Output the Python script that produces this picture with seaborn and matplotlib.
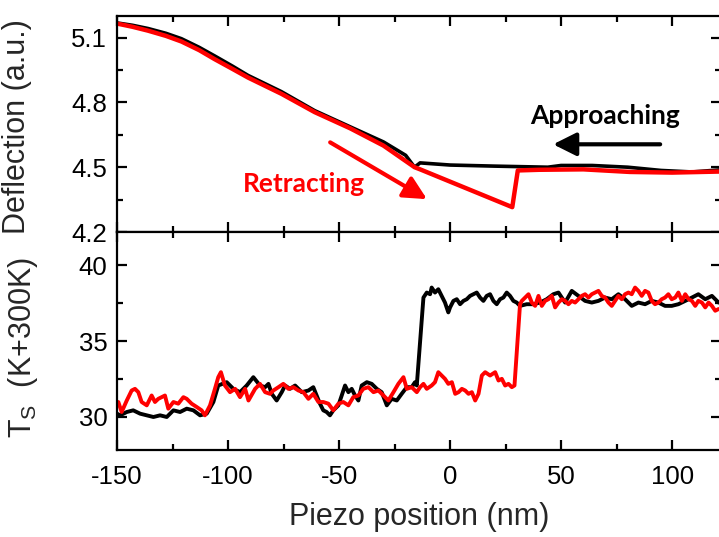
import matplotlib
matplotlib.use("Agg")
import matplotlib.pyplot as plt
import seaborn as sns
import pandas as pd
from matplotlib.ticker import MultipleLocator

# ---------------- data ----------------
# Top panel: deflection vs piezo position
appr_x = [-150, -143, -136, -128, -121, -113, -106, -98, -91, -76, -61, -45, -30, -20, -16,
          -13.5, 0, 20, 44, 50, 64, 80, 95, 109, 122]
appr_defl = [5.168, 5.157, 5.142, 5.12, 5.095, 5.055, 5.015, 4.968, 4.925, 4.85, 4.762,
             4.687, 4.617, 4.555, 4.50,
             4.52, 4.51, 4.505, 4.50, 4.508, 4.508, 4.50, 4.485, 4.478, 4.488]

retr_x = [-150, -143, -136, -128, -121, -113, -106, -98, -91, -76, -61, -45, -30, -16, -13.5,
          28, 30.5, 40, 60, 81, 100, 122]
retr_defl = [5.165, 5.15, 5.132, 5.108, 5.082, 5.042, 5.0, 4.955, 4.915, 4.84, 4.755,
             4.68, 4.60, 4.50, 4.49,
             4.315, 4.485, 4.488, 4.49, 4.478, 4.475, 4.48]

# Bottom panel: sample temperature (K + 300 K)
appr_tx = [-150, -148.6, -145.6, -142.7, -139.6, -136.6, -133.6, -130.6, -127.6, -124.6,
           -121.6, -118.6, -115.6, -112.6, -109.6, -106.6, -104.4, -100.6, -97.6, -94.6,
           -91.6, -88.6, -85.6,
           -83.3, -81.8, -80.3, -78.1, -75.8, -74.3, -72.1, -69.8, -66.8, -63.8,
           -61.6, -60.1, -58.6, -57.1, -55.6, -54.1, -52.6, -50.3, -48.8, -47.3,
           -45.8, -44.3, -42.8, -41.3, -39.8, -37.5, -35.3, -33.0, -30.8, -28.5,
           -26.3, -24.0, -21.8, -19.5, -17.3, -15.8, -15.0,
           -12.0, -10.5, -9.0, -8.3, -6.8, -5.3, -3.8, -2.3, -0.8, 0, 1.5, 3.0,
           4.5, 6.0, 7.5, 9.0, 10.5, 12.0, 13.5, 15.0, 16.5, 18.0, 19.5, 21.0,
           22.5, 24.0, 25.5, 27.0, 28.5, 30.0, 31.5, 34.5, 37.5, 40.5, 43.5, 46.5,
           48.8, 51.8, 54.8, 57.8, 60.8, 63.8, 66.8, 69.8, 72.8, 75.8, 78.8, 81.8,
           84.8, 87.8, 90.8, 93.8, 96.8, 99.8, 102.8, 105.9, 108.9, 111.8, 114.9,
           117.9, 120.9, 122]
appr_temp = [30.2, 30.09, 30.31, 30.42, 30.20, 30.09, 29.98, 30.09, 29.98, 30.42,
             30.31, 30.53, 30.42, 30.09, 30.20, 30.97, 32.06, 32.28, 31.84, 31.62,
             32.06, 32.61, 32.06,
             31.95, 32.17, 31.51, 31.07, 31.62, 32.06, 31.84, 32.06, 31.62, 31.73,
             31.95, 31.40, 30.86, 30.42, 30.31, 30.09, 30.42, 30.75, 31.40, 32.06,
             31.62, 31.84, 31.40, 31.07, 32.06, 32.28, 32.17, 31.84, 31.62, 30.75,
             31.18, 31.07, 31.51, 31.95, 31.95, 32.28, 32.06,
             37.87, 38.20, 38.09, 38.53, 38.20, 38.42, 37.98, 37.54, 36.89, 37.22, 37.65, 37.76,
             37.43, 37.65, 37.76, 37.98, 38.09, 38.20, 37.87, 37.65, 37.98, 38.09, 37.65, 37.43,
             37.76, 37.87, 38.20, 37.98, 37.65, 37.54, 37.32, 37.43, 37.43, 37.54, 37.76, 38.09,
             38.20, 37.54, 38.31, 37.98, 37.65, 37.54, 37.65, 37.87, 37.76, 38.09, 37.76, 37.32,
             37.54, 37.43, 37.65, 37.54, 37.32, 37.32, 37.43, 37.65, 37.87, 38.09, 37.76,
             37.98, 37.54, 37.6]

retr_tx = [-150, -149.4, -147.9, -145.6, -143.4, -141.9, -140.4, -138.9, -136.6, -134.4,
           -132.9, -131.4, -129.9, -128.4, -126.9, -124.6, -122.4, -120.1, -118.6, -116.4,
           -114.1, -111.9, -110.4, -108.1, -105.9, -104.4, -103.2, -101.4, -99.1, -96.8,
           -94.6, -92.3, -90.8, -87.8, -85.6, -83.3, -81.1,
           -79.6, -77.3, -75.1, -72.8, -70.6, -68.3, -66.1, -63.8, -61.6, -59.3,
           -57.1, -54.8, -52.6, -50.3, -48.1, -45.8, -43.6, -41.3, -39.1, -36.8,
           -34.5, -32.3, -30.0, -27.8, -25.5, -23.3,
           -21.0, -19.5, -17.3, -15.0, -13.5, -12.0, -10.5, -8.3, -6.8, -5.3,
           -3.8, -2.3, -0.8, 0.8, 2.3, 3.8, 5.3, 6.8, 8.3, 9.8,
           11.3, 12.8, 14.3, 15.8, 18.0, 20.3, 21.8, 23.3, 24.8, 26.3,
           27.8, 29.0, 31.5, 32.3, 33.8, 35.3, 36.8, 38.3, 39.8, 41.3,
           42.8, 44.3, 45.8, 47.3,
           48.8, 50.3, 51.8, 53.3, 54.8, 56.3, 57.8, 59.3, 60.8, 62.3,
           63.8, 65.3, 66.8, 68.3, 69.8, 71.3, 72.8, 74.3, 75.8, 77.3,
           78.8, 80.3, 81.8, 83.3, 84.8, 86.3, 87.8, 89.3, 90.8, 92.3,
           93.8, 95.3, 96.8, 98.3, 99.8, 101.4, 102.8, 104.4, 105.9, 107.4,
           108.9, 110.4, 111.8, 113.4, 114.9, 116.4, 117.9, 119.4, 120.9, 122]
retr_temp = [30.8, 30.97, 30.31, 31.07, 31.73, 31.84, 31.62, 30.97, 30.75, 31.40,
             30.97, 31.18, 31.29, 31.40, 30.53, 30.97, 30.86, 31.29, 31.18, 30.86,
             30.64, 30.42, 30.09, 30.75, 31.84, 32.61, 32.94, 32.06, 31.62, 31.84,
             31.29, 31.84, 31.07, 31.84, 32.17, 31.62, 31.51,
             31.73, 31.95, 32.17, 31.84, 31.95, 31.73, 31.62, 31.18, 31.51, 30.97,
             30.97, 30.86, 30.42, 30.86, 30.97, 30.75, 31.29, 31.40, 31.84, 31.95,
             31.62, 31.73, 31.40, 31.07, 31.62, 32.17,
             32.61, 31.84, 31.95, 31.62, 31.95, 32.17, 31.84, 32.06, 32.28, 32.94,
             32.72, 32.50, 32.17, 32.28, 31.51, 31.62, 31.84, 31.73, 31.51, 31.62,
             31.07, 31.51, 32.72, 32.94, 32.72, 32.94, 32.39, 32.50, 32.06, 32.17,
             31.95, 32.06, 37.43, 37.65, 37.87, 38.09, 37.54, 37.32, 37.98, 37.32,
             37.65, 37.76, 37.98, 37.22,
             37.54, 37.76, 37.65, 37.43, 37.65, 37.54, 37.76, 37.98, 38.09, 37.87,
             38.09, 38.20, 38.31, 37.98, 37.87, 37.54, 37.32, 37.65, 37.98, 37.76,
             38.09, 38.20, 38.09, 38.53, 38.31, 37.98, 38.31, 38.20, 37.65, 37.43,
             37.54, 37.76, 37.87, 38.09, 37.76, 37.87, 38.20, 37.65, 38.09, 37.76,
             37.65, 37.32, 37.65, 37.54, 37.22, 37.54, 37.32, 37.00, 37.11, 37.1]

defl_ticks = [4.2, 4.5, 4.8, 5.1]
temp_ticks = [30, 35, 40]
x_ticks = [-150, -100, -50, 0, 50, 100]

# ---------------- style ----------------
sns.set_style("ticks")
plt.rcParams["font.family"] = ["Liberation Sans", "DejaVu Sans"]
plt.rcParams["axes.unicode_minus"] = False
plt.rcParams["mathtext.default"] = "regular"
for ax_ in ("xtick", "ytick"):
    plt.rcParams[f"{ax_}.direction"] = "in"
    plt.rcParams[f"{ax_}.major.size"] = 7
    plt.rcParams[f"{ax_}.major.width"] = 1.6
    plt.rcParams[f"{ax_}.minor.size"] = 4
    plt.rcParams[f"{ax_}.minor.width"] = 1.6
    plt.rcParams[f"{ax_}.color"] = "black"
plt.rcParams["xtick.top"] = True
plt.rcParams["ytick.right"] = True
plt.rcParams["axes.linewidth"] = 1.6
plt.rcParams["axes.edgecolor"] = "black"

fig = plt.figure(figsize=(7.19, 5.37), dpi=100)
W, H = 719, 537
left, right = 117, 721
ax1 = fig.add_axes([left / W, 1 - 232 / H, (right - left) / W, (232 - 16) / H])
ax2 = fig.add_axes([left / W, 1 - 450 / H, (right - left) / W, (450 - 232) / H], sharex=ax1)

# top panel
sns.lineplot(x=appr_x, y=appr_defl, ax=ax1, color="black", lw=2.6,
             estimator=None, sort=False)
sns.lineplot(x=retr_x, y=retr_defl, ax=ax1, color="#ff0000", lw=3.2,
             estimator=None, sort=False)

# bottom panel
sns.lineplot(x=appr_tx, y=appr_temp, ax=ax2, color="black", lw=2.8,
             estimator=None, sort=False)
sns.lineplot(x=retr_tx, y=retr_temp, ax=ax2, color="#ff0000", lw=2.8,
             estimator=None, sort=False)

ax1.set_xlim(-150, 122)
ax1.set_ylim(4.2, 5.2)
ax2.set_ylim(27.8, 42.2)

ax1.set_yticks(defl_ticks)
ax1.set_yticklabels([f"{v:.1f}" for v in defl_ticks])
ax1.yaxis.set_minor_locator(MultipleLocator(0.15))
ax2.set_yticks(temp_ticks)
ax2.yaxis.set_minor_locator(MultipleLocator(2.5))
ax2.set_xticks(x_ticks)
ax2.xaxis.set_minor_locator(MultipleLocator(25))

for ax in (ax1, ax2):
    ax.tick_params(which="both", direction="in", top=True, right=True)
    ax.tick_params(axis="both", labelsize=18.5)
    ax.tick_params(axis="y", pad=7)
    ax.tick_params(axis="x", pad=11)
    for s in ax.spines.values():
        s.set_visible(True)
        s.set_linewidth(1.6)
ax1.tick_params(axis="x", labelbottom=False)

ax1.set_xlabel("")
ax1.set_ylabel("Deflection (a.u.)", fontsize=22)
ax2.set_ylabel(r"$\mathregular{T_S}$  (K+300K)", fontsize=22)
ax2.set_xlabel("Piezo position (nm)", fontsize=22, labelpad=9)
ax1.yaxis.set_label_coords(-0.141, 0.49)
ax2.yaxis.set_label_coords(-0.128, 0.47)

# annotations
ax1.text(69.8, 4.698, "Approaching", color="black", fontsize=19, fontweight="bold",
         family=["Lato", "DejaVu Sans"], ha="center", va="baseline")
ax1.annotate("", xy=(46.4, 4.606), xytext=(94.6, 4.606),
             arrowprops=dict(arrowstyle="-|>,head_length=0.7,head_width=0.35",
                             lw=3, color="black", shrinkA=0, shrinkB=0,
                             mutation_scale=20))
ax1.text(-65.8, 4.385, "Retracting", color="#ff0000", fontsize=19, fontweight="bold",
         family=["Lato", "DejaVu Sans"], ha="center", va="baseline")
ax1.annotate("", xy=(-10.4, 4.352), xytext=(-54, 4.615),
             arrowprops=dict(arrowstyle="-|>,head_length=0.7,head_width=0.35",
                             lw=3, color="#ff0000", shrinkA=0, shrinkB=0,
                             mutation_scale=20))

fig.savefig("out.png", dpi=100)
